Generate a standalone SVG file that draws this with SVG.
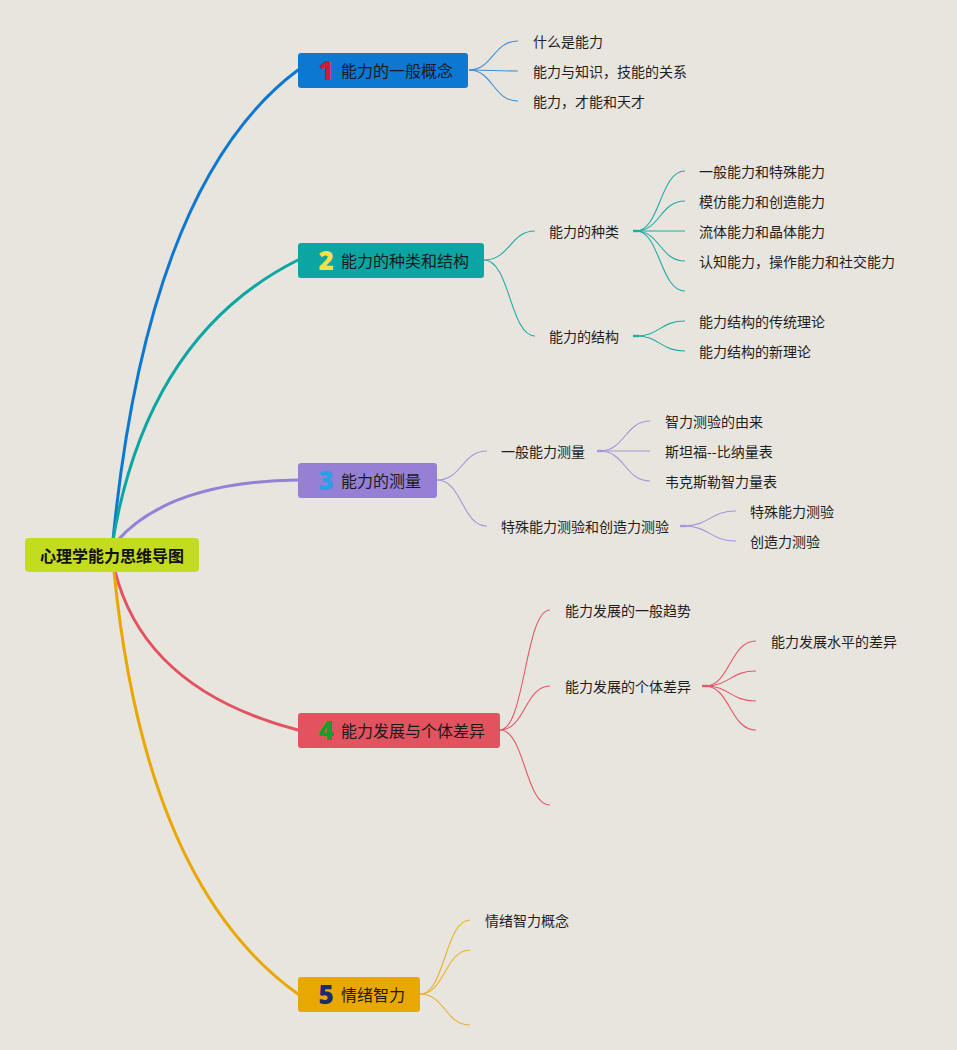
<svg xmlns="http://www.w3.org/2000/svg" width="957" height="1050" viewBox="0 0 957 1050">
<style>
.bg{fill:#e8e5de}
.t{font-family:"Noto Sans CJK SC","Liberation Sans",sans-serif;font-size:14px;fill:#1e1e1e;dominant-baseline:central}
.nt{font-family:"Noto Sans CJK SC","Liberation Sans",sans-serif;font-size:16px;fill:#1a1a1a;dominant-baseline:central}
.rt{font-family:"Noto Sans CJK SC","Liberation Sans",sans-serif;font-size:16px;font-weight:bold;fill:#111;dominant-baseline:central;text-anchor:middle}
.num{font-family:"Open Sans","Liberation Sans",sans-serif;font-size:26px;font-weight:800;dominant-baseline:central;text-anchor:middle}
.main{fill:none;stroke-width:3;stroke-linecap:round}
.thin{fill:none;stroke-width:1.1}
.stub{stroke-width:2.4}
</style>
<rect class="bg" x="0" y="0" width="957" height="1050"/>
<g id="connectors">
  <path class="main" stroke="#0c78d2" d="M113,540 Q148,182 298,70"/>
  <path class="main" stroke="#0ba6a3" d="M113,540 Q148,335 298,260"/>
  <path class="main" stroke="#9580d5" d="M118,540 Q170,482 298,480"/>
  <path class="main" stroke="#e2525f" d="M115,571 Q145,690 298,730"/>
  <path class="main" stroke="#e9a800" d="M114,571 Q145,885 298,994"/>
  <g stroke="#3f8fd6">
    <path class="thin" d="M469,70 C493,70 493,41 518,41"/>
    <path class="thin" d="M469,70 C493,70 493,71 518,71"/>
    <path class="thin" d="M469,70 C493,70 493,101 518,101"/>
  </g>
  <g stroke="#22aaa6">
    <path class="thin" d="M484,260 C510,260 510,231 535,231"/>
    <path class="thin" d="M484,260 C510,260 510,336 535,336"/>
    <line class="stub" x1="633" y1="231" x2="639" y2="231"/>
    <path class="thin" d="M636,231 C660,231 660,171 685,171"/>
    <path class="thin" d="M636,231 C660,231 660,201 685,201"/>
    <path class="thin" d="M636,231 C660,231 660,231 685,231"/>
    <path class="thin" d="M636,231 C660,231 660,261 685,261"/>
    <path class="thin" d="M636,231 C660,231 660,291 685,291"/>
    <line class="stub" x1="633" y1="336" x2="639" y2="336"/>
    <path class="thin" d="M636,336 C660,336 660,321 685,321"/>
    <path class="thin" d="M636,336 C660,336 660,351 685,351"/>
  </g>
  <g stroke="#a794dc">
    <path class="thin" d="M437,480 C462,480 462,451 487,451"/>
    <path class="thin" d="M437,480 C462,480 462,526 487,526"/>
    <line class="stub" x1="597" y1="451" x2="603" y2="451"/>
    <path class="thin" d="M600,451 C625,451 625,421 650,421"/>
    <path class="thin" d="M600,451 C625,451 625,451 650,451"/>
    <path class="thin" d="M600,451 C625,451 625,481 650,481"/>
    <line class="stub" x1="680" y1="526" x2="686" y2="526"/>
    <path class="thin" d="M683,526 C710,526 710,511 736,511"/>
    <path class="thin" d="M683,526 C710,526 710,541 736,541"/>
  </g>
  <g stroke="#e35a68">
    <path class="thin" d="M500,730 C525,730 525,610 550,610"/>
    <path class="thin" d="M500,730 C525,730 525,686 550,686"/>
    <path class="thin" d="M500,730 C525,730 525,805 550,805"/>
    <line class="stub" x1="702" y1="686" x2="708" y2="686"/>
    <path class="thin" d="M705,686 C730,686 730,641 756,641"/>
    <path class="thin" d="M705,686 C730,686 730,671 756,671"/>
    <path class="thin" d="M705,686 C730,686 730,701 756,701"/>
    <path class="thin" d="M705,686 C730,686 730,730 756,730"/>
  </g>
  <g stroke="#e8b030">
    <path class="thin" d="M420,994 C445,994 445,920 470,920"/>
    <path class="thin" d="M420,994 C445,994 445,950 470,950"/>
    <path class="thin" d="M420,994 C445,994 445,1025 470,1025"/>
  </g>
</g>
<g id="root">
  <rect x="25" y="538" width="174" height="34" rx="4" fill="#c3dc20"/>
  <text class="rt" x="112" y="555">心理学能力思维导图</text>
</g>
<g id="node1">
  <rect x="298" y="53" width="170" height="35" rx="3" fill="#0c78d2"/>
  <text class="num" x="326" y="70" fill="#d1193b">1</text>
  <text class="nt" x="341" y="70">能力的一般概念</text>
</g>
<g id="n1a"><text class="t" x="533" y="41">什么是能力</text></g>
<g id="n1b"><text class="t" x="533" y="71">能力与知识，技能的关系</text></g>
<g id="n1c"><text class="t" x="533" y="101">能力，才能和天才</text></g>
<g id="node2">
  <rect x="298" y="243" width="186" height="35" rx="3" fill="#0ba6a3"/>
  <text class="num" x="326" y="260" fill="#f4e04b">2</text>
  <text class="nt" x="341" y="260">能力的种类和结构</text>
</g>
<g id="n2a"><text class="t" x="549" y="231">能力的种类</text></g>
<g id="n2a1"><text class="t" x="699" y="171">一般能力和特殊能力</text></g>
<g id="n2a2"><text class="t" x="699" y="201">模仿能力和创造能力</text></g>
<g id="n2a3"><text class="t" x="699" y="231">流体能力和晶体能力</text></g>
<g id="n2a4"><text class="t" x="699" y="261">认知能力，操作能力和社交能力</text></g>
<g id="n2b"><text class="t" x="549" y="336">能力的结构</text></g>
<g id="n2b1"><text class="t" x="699" y="321">能力结构的传统理论</text></g>
<g id="n2b2"><text class="t" x="699" y="351">能力结构的新理论</text></g>
<g id="node3">
  <rect x="298" y="463" width="139" height="35" rx="3" fill="#9580d5"/>
  <text class="num" x="326" y="480" fill="#2b9fe5">3</text>
  <text class="nt" x="341" y="480">能力的测量</text>
</g>
<g id="n3a"><text class="t" x="501" y="451">一般能力测量</text></g>
<g id="n3a1"><text class="t" x="665" y="421">智力测验的由来</text></g>
<g id="n3a2"><text class="t" x="665" y="451">斯坦福--比纳量表</text></g>
<g id="n3a3"><text class="t" x="665" y="481">韦克斯勒智力量表</text></g>
<g id="n3b"><text class="t" x="501" y="526">特殊能力测验和创造力测验</text></g>
<g id="n3b1"><text class="t" x="750" y="511">特殊能力测验</text></g>
<g id="n3b2"><text class="t" x="750" y="541">创造力测验</text></g>
<g id="node4">
  <rect x="298" y="713" width="202" height="35" rx="3" fill="#e2525f"/>
  <text class="num" x="326" y="730" fill="#1f9b2c">4</text>
  <text class="nt" x="341" y="730">能力发展与个体差异</text>
</g>
<g id="n4a"><text class="t" x="565" y="610">能力发展的一般趋势</text></g>
<g id="n4b"><text class="t" x="565" y="686">能力发展的个体差异</text></g>
<g id="n4b1"><text class="t" x="771" y="641">能力发展水平的差异</text></g>
<g id="node5">
  <rect x="298" y="977" width="122" height="35" rx="3" fill="#e9a800"/>
  <text class="num" x="326" y="994" fill="#1e2a6e">5</text>
  <text class="nt" x="341" y="994">情绪智力</text>
</g>
<g id="n5a"><text class="t" x="485" y="920">情绪智力概念</text></g>
</svg>
